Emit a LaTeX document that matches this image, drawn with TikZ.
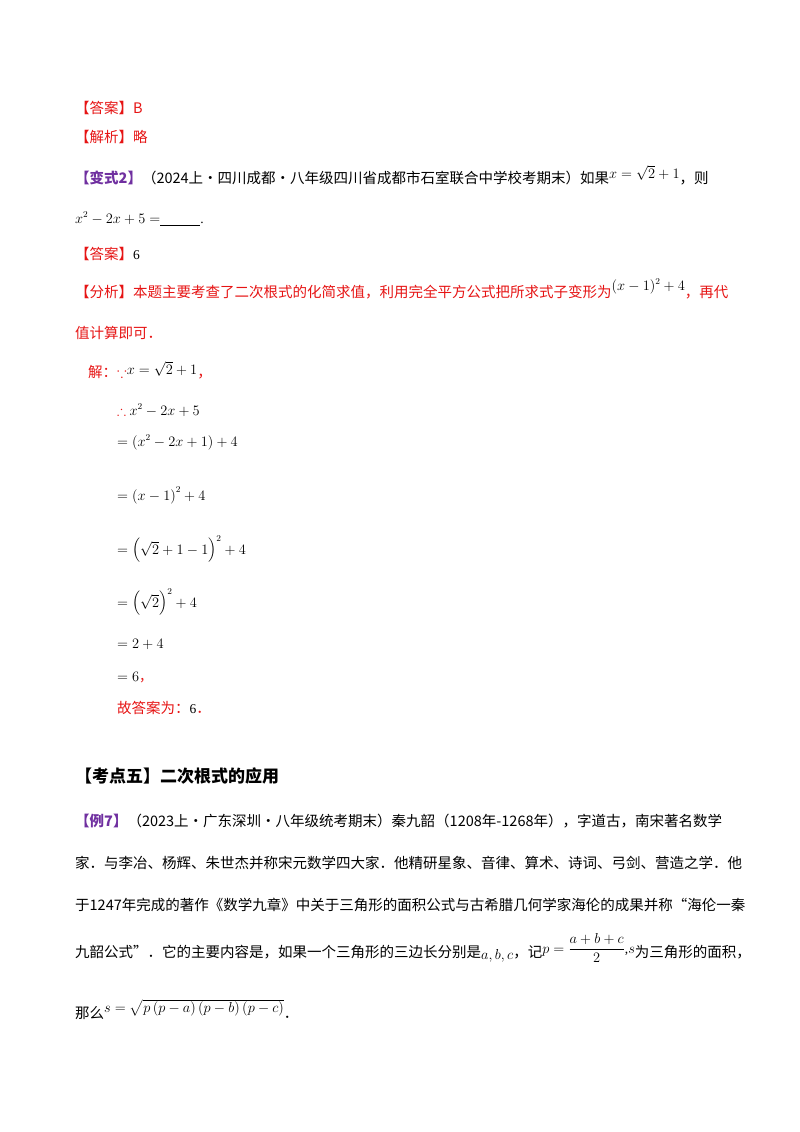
\documentclass[tikz,border=0pt]{standalone}
\usepackage{amsmath,amssymb}
\usepackage{fontspec}
\setmainfont{Liberation Serif}
\newfontfamily\cjk{Noto Sans CJK SC}
\definecolor{ansred}{RGB}{230,20,20}
\definecolor{purp}{RGB}{112,48,160}
\newcommand{\mth}{\rmfamily\fontsize{13.5}{15}\selectfont}
\begin{document}
\begin{tikzpicture}[x=1pt,y=-1pt,
  t/.style={anchor=base west,inner sep=0pt,font=\fontsize{14.5}{16}\selectfont\cjk},
  m/.style={anchor=base west,inner sep=0pt,font=\mth}]
\useasboundingbox (0,0) rectangle (800,1132);
\node[t,text=ansred] (a1) at (75,113) {【答案】B};
\node[t,text=ansred] (a2) at (75,142) {【解析】略};
\node[t] (b1) at (75,183) {\textcolor{purp}{\bfseries 【变式2】}（2024上·四川成都·八年级四川省成都市石室联合中学校考期末）如果\raisebox{5pt}{\mth$x=\sqrt{2}+1$}，则};
\node[t] (b2) at (75,223) {{\mth$x^2-2x+5=$\underline{\hspace{40pt}}.}};
\node[t] (b3) at (75,259) {\textcolor{ansred}{【答案】}{\mth 6}};
\node[t,text=ansred] (b4) at (75,297) {【分析】本题主要考查了二次根式的化简求值，利用完全平方公式把所求式子变形为\raisebox{7pt}{\textcolor{black}{\mth$(x-1)^2+4$}}，再代};
\node[t,text=ansred] (b5) at (75,338) {值计算即可．};
\node[t,text=ansred] (s0) at (88,377) {解：\textcolor{ansred}{$\because$}\raisebox{3pt}{\textcolor{black}{\mth$x=\sqrt{2}+1$}}，};
\node[m] (s1) at (117,415) {\textcolor{ansred}{$\therefore$} $x^2-2x+5$};
\node[m] (s2) at (117,446) {$=\left(x^2-2x+1\right)+4$};
\node[m] (s3) at (117,500) {$=\left(x-1\right)^2+4$};
\node[m] (s4) at (117,554) {$=\left(\sqrt{2}+1-1\right)^2+4$};
\node[m] (s5) at (117,607) {$=\left(\sqrt{2}\right)^2+4$};
\node[m] (s6) at (117,648) {$=2+4$};
\node[m] (s7) at (117,681) {$=6$\textcolor{ansred}{\cjk ，}};
\node[t] (s8) at (117,713) {\textcolor{ansred}{故答案为：}{\mth 6}\textcolor{ansred}{．}};
\node[t,font=\fontsize{17}{19}\selectfont\cjk\bfseries] (h) at (75,782) {【考点五】二次根式的应用};
\node[t] (e1) at (75,826) {\textcolor{purp}{\bfseries 【例7】}（2023上·广东深圳·八年级统考期末）秦九韶（1208年-1268年），字道古，南宋著名数学};
\node[t] (e2) at (75,868) {家．与李冶、杨辉、朱世杰并称宋元数学四大家．他精研星象、音律、算术、诗词、弓剑、营造之学．他};
\node[t] (e3) at (75,910) {于1247年完成的著作《数学九章》中关于三角形的面积公式与古希腊几何学家海伦的成果并称“海伦一秦};
\node[t] (e4) at (75,957) {九韶公式”．它的主要内容是，如果一个三角形的三边长分别是\raisebox{-2pt}{\mth$a,b,c$}，记\raisebox{4pt}{\mth$p=\dfrac{a+b+c}{2}$,$s$}为三角形的面积，};
\node[t] (e5) at (75,1018) {那么\raisebox{6pt}{\mth$s=\sqrt{p\left(p-a\right)\left(p-b\right)\left(p-c\right)}$}．};
\end{tikzpicture}
\end{document}
